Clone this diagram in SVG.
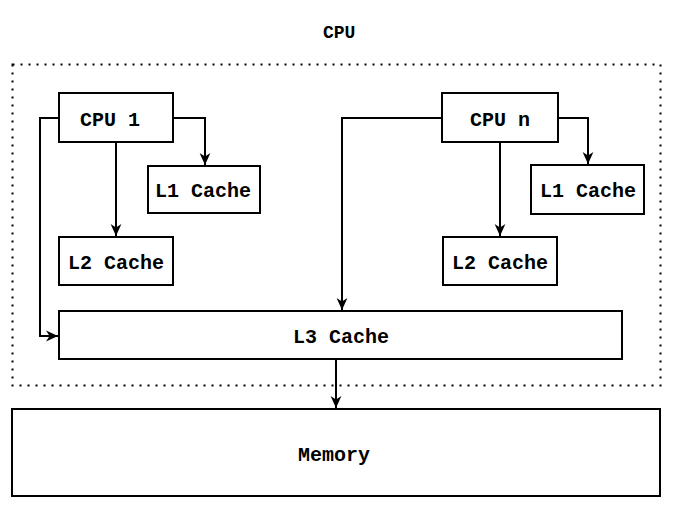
<svg xmlns="http://www.w3.org/2000/svg" width="678" height="510" viewBox="0 0 678 510">
<defs>
<marker id="arr" markerUnits="userSpaceOnUse" markerWidth="12" markerHeight="12" viewBox="0 0 10 10" refX="10" refY="5" orient="auto">
<path d="M0,0.5 L10,5 L0,9.5 L3,5 Z" fill="#000"/>
</marker>
<style>
.box{fill:#fff;stroke:#000;stroke-width:2}
.lbl{font-family:"Liberation Mono","Courier New",monospace;font-weight:bold;font-size:20px;fill:#000}
.ttl{font-family:"Liberation Mono","Courier New",monospace;font-weight:bold;font-size:18px;fill:#000}
.con{fill:none;stroke:#000;stroke-width:2;marker-end:url(#arr)}
</style>
</defs>
<rect width="678" height="510" fill="#fff"/>
<g id="cpu-group">
<rect x="12.5" y="64.5" width="648" height="321" fill="none" stroke="#000" stroke-width="2" stroke-dasharray="2 6"/>
<text class="ttl" x="323" y="38">CPU</text>
</g>
<g id="connectors">
<path class="con" d="M173,118 H205 V165"/>
<path class="con" d="M116,142 V236"/>
<path class="con" d="M59,118 H40 V336 H58"/>
<path class="con" d="M442,118 H342 V310"/>
<path class="con" d="M558,118 H588 V164"/>
<path class="con" d="M500,142 V236"/>
<path class="con" d="M336,359 V408"/>
</g>
<g id="cpu1"><rect class="box" x="59" y="93" width="114" height="49"/><text class="lbl" x="80" y="126">CPU 1</text></g>
<g id="l1-left"><rect class="box" x="148" y="166" width="112" height="47"/><text class="lbl" x="155" y="197">L1 Cache</text></g>
<g id="l2-left"><rect class="box" x="59" y="237" width="114" height="48"/><text class="lbl" x="68" y="269">L2 Cache</text></g>
<g id="cpun"><rect class="box" x="442" y="93" width="116" height="49"/><text class="lbl" x="470" y="126">CPU n</text></g>
<g id="l1-right"><rect class="box" x="531" y="165" width="113" height="49"/><text class="lbl" x="540" y="197">L1 Cache</text></g>
<g id="l2-right"><rect class="box" x="443" y="237" width="114" height="48"/><text class="lbl" x="452" y="269">L2 Cache</text></g>
<g id="l3"><rect class="box" x="59" y="311" width="563" height="48"/><text class="lbl" x="293" y="343">L3 Cache</text></g>
<g id="memory"><rect class="box" x="12" y="409" width="648" height="87"/><text class="lbl" x="298" y="461">Memory</text></g>
</svg>
